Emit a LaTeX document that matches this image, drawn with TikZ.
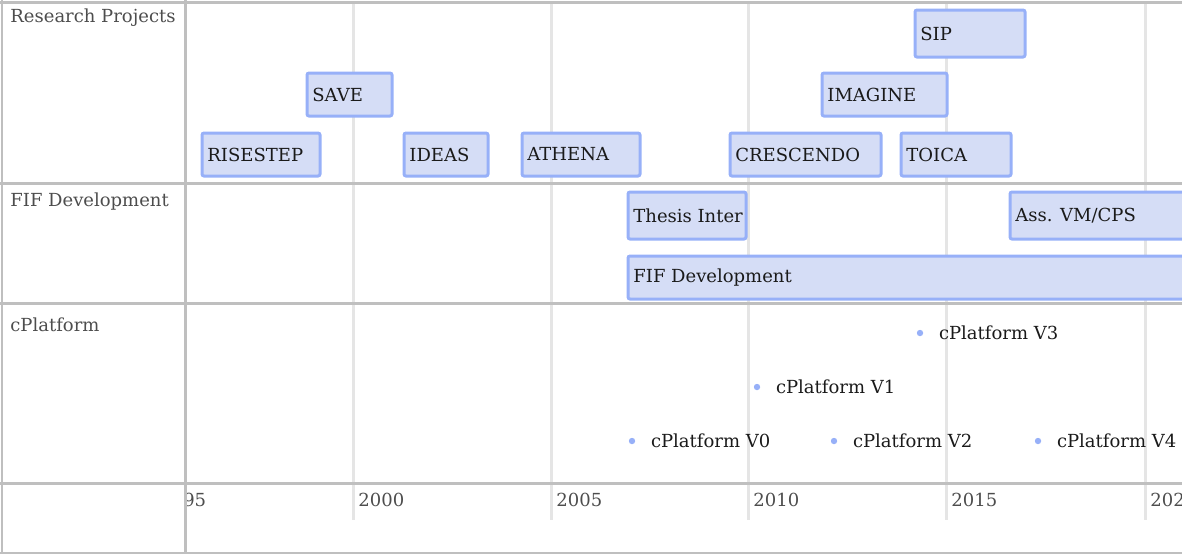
\documentclass[tikz,border=0pt]{standalone}
\usepackage{fontspec}
\setmainfont{DejaVu Serif}
\definecolor{gridline}{HTML}{E5E5E5}
\definecolor{frameline}{HTML}{BFBFBF}
\definecolor{boxfill}{HTML}{D5DDF6}
\definecolor{boxline}{HTML}{97B0F8}
\definecolor{grouptext}{HTML}{4D4D4D}
\definecolor{itemtext}{HTML}{1A1A1A}

\begin{document}
\begin{tikzpicture}[x=0.5pt,y=-0.5pt,
    font=\fontsize{9}{11}\selectfont,
    box/.style={draw=boxline, fill=boxfill, line width=1.5pt, rounded corners=1pt,
        anchor=north west, inner sep=0pt},
    boxtext/.style={anchor=west, inner xsep=3.25pt, inner ysep=0pt, text=itemtext},
    group/.style={anchor=west, inner sep=0pt, text=grouptext},
    year/.style={anchor=west, inner sep=0pt, text=grouptext},
    point/.style={circle, fill=boxline, inner sep=0pt, minimum size=3.2pt},
    pointtext/.style={inner sep=0pt, xshift=7.5pt, text=itemtext}]
    \useasboundingbox (0,0) rectangle (1182,554);
    \clip (0,0) rectangle (1182,554);

    \foreach \x in {353,551,748,946,1145}
        \draw[gridline, line width=1.5pt] (\x,3) -- (\x,520);

    \begin{scope}
        \clip (187,485) rectangle (1182,554);
        \node[year] (y1995) at (160,500) {1995};
        \node[year] (y2000) at (358,500) {2000};
        \node[year] (y2005) at (556,500) {2005};
        \node[year] (y2010) at (753,500) {2010};
        \node[year] (y2015) at (951,500) {2015};
        \node[year] (y2020) at (1150,500) {2020};
    \end{scope}

    \draw[frameline, line width=1.5pt] (0,2) -- (1182,2);
    \draw[frameline, line width=1.5pt] (0,183) -- (1182,183);
    \draw[frameline, line width=1.5pt] (0,303) -- (1182,303);
    \draw[frameline, line width=1.5pt] (0,483) -- (1182,483);
    \draw[frameline, line width=1pt] (0,552.5) -- (1182,552.5);
    \draw[frameline, line width=1pt] (2,0) -- (2,554);
    \draw[frameline, line width=1.5pt] (185,0) -- (185,554);

    \node[group] (research) at (10,18) {Research Projects};
    \node[group] (fifgroup) at (10,202) {FIF Development};
    \node[group] (cplatform) at (10,325) {cPlatform};

    \node[box, minimum width=55pt, minimum height=23.5pt, label={[boxtext]west:SIP}] (sip) at (913.5,8.5) {};
    \node[box, minimum width=42.5pt, minimum height=21.5pt, label={[boxtext]west:SAVE}] (save) at (305.5,71.5) {};
    \node[box, minimum width=62.5pt, minimum height=21.5pt, label={[boxtext]west:IMAGINE}] (imagine) at (820.5,71.5) {};
    \node[box, minimum width=59pt, minimum height=21.5pt, label={[boxtext]west:RISESTEP}] (risestep) at (200.5,131.5) {};
    \node[box, minimum width=42pt, minimum height=21.5pt, label={[boxtext]west:IDEAS}] (ideas) at (402.5,131.5) {};
    \node[box, minimum width=59pt, minimum height=21.5pt, label={[boxtext]west:ATHENA}] (athena) at (520.5,131.5) {};
    \node[box, minimum width=75.5pt, minimum height=21.5pt, label={[boxtext]west:CRESCENDO}] (crescendo) at (728.5,131.5) {};
    \node[box, minimum width=55pt, minimum height=21.5pt, label={[boxtext]west:TOICA}] (toica) at (899.5,131.5) {};

    \node[box, minimum width=59pt, minimum height=23.5pt, label={[boxtext]west:Thesis Inter}] (thesis) at (626.5,190.5) {};
    \node[box, minimum width=100pt, minimum height=23.5pt, label={[boxtext]west:Ass. VM/CPS}] (assvm) at (1008.5,190.5) {};
    \node[box, minimum width=287.5pt, minimum height=21.5pt, label={[boxtext]west:FIF Development}] (fif) at (626.5,254.5) {};

    \node[point, label={[pointtext]right:cPlatform V0}] (v0) at (632,441) {};
    \node[point, label={[pointtext]right:cPlatform V1}] (v1) at (757,387) {};
    \node[point, label={[pointtext]right:cPlatform V2}] (v2) at (834,441) {};
    \node[point, label={[pointtext]right:cPlatform V3}] (v3) at (920,333) {};
    \node[point, label={[pointtext]right:cPlatform V4}] (v4) at (1038,441) {};
\end{tikzpicture}
\end{document}
